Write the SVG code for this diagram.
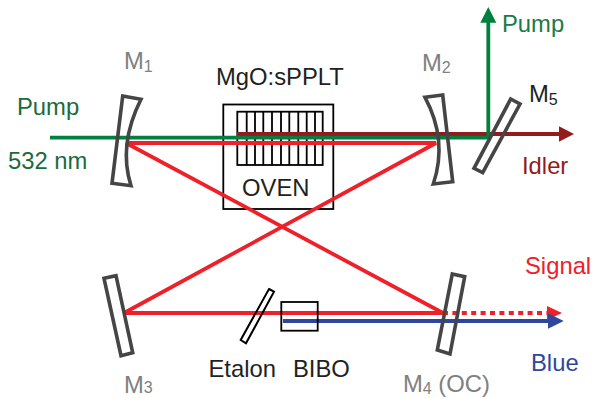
<svg xmlns="http://www.w3.org/2000/svg" width="592" height="398" viewBox="0 0 592 398">
<style>
text{font-family:"Liberation Sans",Arial,sans-serif;font-size:23.8px}
.sub{font-size:16px}
.grey{fill:#808080}
.dark{fill:#231f20}
.mirror{fill:none;stroke:#454545;stroke-width:3.6;stroke-linejoin:miter}
.box{fill:none;stroke:#000;stroke-width:1.8}
.beam{fill:none;stroke-width:3.8}
.red{stroke:#ee2029}
.green{stroke:#00803e}
.idler{stroke:#931a1d}
.blue{stroke:#2e479c}
</style>
<rect width="592" height="398" fill="#fff"/>
<g id="oven"><rect class="box" x="223.3" y="104.5" width="110" height="104.5"/><text class="dark" x="242" y="196">OVEN</text></g>
<g id="crystal"><rect class="box" x="237.3" y="111.7" width="85.4" height="53.3"/>
<path class="box" d="M246.7 111.7V165M255 111.7V165M263.3 111.7V165M272 111.7V165M281 111.7V165M289.3 111.7V165M298.3 111.7V165M306.7 111.7V165M315 111.7V165"/>
<text class="dark" x="216" y="85">MgO:sPPLT</text></g>
<g id="connectors">
<path class="beam red" d="M126 143H436L124 313H443L126 143"/>
<path class="beam idler" d="M237 134H560"/>
<path class="beam green" d="M50 137.7H488.3V21"/>
<path class="beam red" d="M443 313H547" stroke-dasharray="5 4.4"/>
<path class="beam blue" d="M283 321H549"/>
<polygon points="574,134 559,126.3 559,141.7" fill="#931a1d"/>
<polygon points="488.3,7 480.3,22.7 496.3,22.7" fill="#00803e"/>
<polygon points="562,313 547,306 547,320" fill="#ee2029"/>
<polygon points="563.7,321 548,313.3 548,328.7" fill="#2e479c"/>
</g>
<g id="m1"><path class="mirror" d="M122.7 96L141 99.3Q118 145 131 185.7L112 183.3Z"/><text class="grey" x="124" y="69">M<tspan class="sub" dy="2.5">1</tspan></text></g>
<g id="m2"><path class="mirror" d="M425 97.3L442.7 95L452.7 181.7L433.3 184Q448 140 425 97.3Z"/><text class="grey" x="422" y="71">M<tspan class="sub" dy="1.5">2</tspan></text></g>
<g id="m3"><path class="mirror" d="M104 278.3L116 275.7L132.7 352.7L121 355.7Z"/><text class="grey" x="124" y="393">M<tspan class="sub">3</tspan></text></g>
<g id="m4"><path class="mirror" d="M452.3 274L464.7 276.7L450 354L437.3 350Z"/><text class="grey" x="403" y="392">M<tspan class="sub" dy="1.5">4</tspan><tspan dy="-1.5"> (OC)</tspan></text></g>
<g id="m5"><path class="mirror" d="M510.7 99L520 104L482.7 172.7L474 168.3Z"/><text class="dark" x="529" y="102">M<tspan class="sub" dy="3">5</tspan></text></g>
<g id="etalon"><path d="M269 289L274 291.7L246 343.3L240.7 340Z" fill="none" stroke="#000" stroke-width="2"/><text class="dark" x="208.5" y="376.5">Etalon</text></g>
<g id="bibo"><rect class="box" x="281.3" y="302" width="36.4" height="28.7"/><text class="dark" x="293" y="376.5">BIBO</text></g>
<g id="labels">
<text x="17" y="115" fill="#1b6b3d">Pump</text>
<text x="8" y="169" fill="#1b6b3d">532 nm</text>
<text x="502" y="32" fill="#1b7a45">Pump</text>
<text x="522" y="174" fill="#931a1d">Idler</text>
<text x="525" y="274" fill="#ee2029">Signal</text>
<text x="531" y="371" fill="#2e479c">Blue</text>
</g>
</svg>
